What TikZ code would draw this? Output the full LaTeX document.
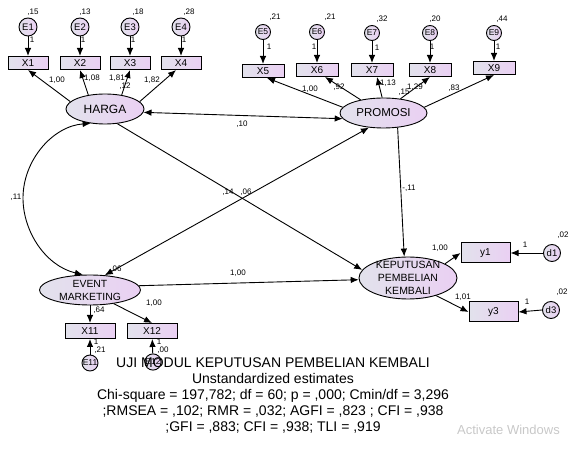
\documentclass[tikz,border=0pt]{standalone}
\usepackage{fontspec}
\setmainfont{Liberation Sans}
\usetikzlibrary{shapes.geometric,arrows.meta}
\definecolor{gL}{RGB}{226,226,236}
\definecolor{gR}{RGB}{234,208,243}
\definecolor{wm}{RGB}{200,200,200}
\tikzset{
  grad/.style={left color=gL, right color=gR},
  lat/.style={ellipse, draw=black, line width=0.9pt, grad, inner sep=0pt},
  lattext/.style={align=center, inner sep=0pt},
  obs/.style={rectangle, draw=black, line width=1pt, grad, inner sep=0pt, font=\fontsize{10}{10}\selectfont},
  errc/.style={circle, draw=black, line width=0.9pt, grad, inner sep=0pt, font=\fontsize{9.5}{9.5}\selectfont},
  lb/.style={font=\fontsize{8}{8}\selectfont, inner sep=0pt},
  arr/.style={-{Latex[length=8pt,width=6.5pt]}, line width=0.9pt},
  darr/.style={{Latex[length=8pt,width=6.5pt]}-{Latex[length=8pt,width=6.5pt]}, line width=0.9pt},
  ttl/.style={font=\fontsize{14}{16}\selectfont, inner sep=0pt, anchor=base},
}
\begin{document}
\begin{tikzpicture}[x=1pt,y=-1pt]
\path[use as bounding box] (0,0) rectangle (574,449);

% ---- HARGA group
\node[lat, minimum width=78pt, minimum height=30pt, label={[lattext,font=\fontsize{12}{12}\selectfont]center:HARGA}] (H) at (105,109) {};
\foreach \i/\x in {1/28,2/80,3/130,4/181}{
  \node[obs, minimum width=40pt, minimum height=13pt] (X\i) at (\x,63) {X\i};
  \node[errc, minimum size=18pt] (E\i) at (\x,27) {E\i};
  \draw[arr] (E\i) -- (X\i);
}
\draw[arr] (H.168) -- (X1.south);
\draw[arr] (H.140) -- (X2.south);
\draw[arr] (H.40) -- (X3.south);
\draw[arr] (H.12) -- ([xshift=-5pt]X4.south);

% ---- PROMOSI group
\node[lat, minimum width=87pt, minimum height=30pt, label={[lattext,font=\fontsize{11.5}{12}\selectfont]center:PROMOSI}] (P) at (383.5,113) {};
\foreach \i/\x/\y/\ey in {5/263/71/32,6/317/70/32,7/372/70/33,8/430/70/33,9/494/68/33}{
  \node[obs, minimum width=42pt, minimum height=13pt] (X\i) at (\x,\y) {X\i};
  \node[errc, minimum size=15pt, font=\fontsize{8.5}{8.5}\selectfont] (E\i) at (\x,\ey) {E\i};
  \draw[arr] (E\i) -- (X\i);
}
\draw[arr] (P.172) -- ([xshift=4pt]X5.south);
\draw[arr] (P.150) -- ([xshift=8pt]X6.south);
\draw[arr] (P.95) -- ([xshift=5pt]X7.south);
\draw[arr] (P.40) -- (X8.south);
\draw[arr] (P.8) -- (X9.south);

% ---- EVENT MARKETING group
\node[lat, minimum width=101pt, minimum height=30pt, label={[lattext,font=\fontsize{10.4}{13}\selectfont]center:EVENT\\MARKETING}] (EV) at (90,290) {};
\node[obs, minimum width=50pt, minimum height=15pt] (X11) at (90,331) {X11};
\node[obs, minimum width=50pt, minimum height=15pt] (X12) at (152,331) {X12};
\node[errc, minimum size=16pt, font=\fontsize{8.5}{8.5}\selectfont] (E11) at (90,363) {E11};
\node[errc, minimum size=16pt, font=\fontsize{8.5}{8.5}\selectfont] (E12) at (153,362) {E12};
\draw[arr] (EV) -- (X11);
\draw[arr] (EV.-30) -- (X12.north);
\draw[arr] (E11) -- (X11);
\draw[arr] (E12) -- (X12);

% ---- KEPUTUSAN group
\node[lat, minimum width=98pt, minimum height=42pt, label={[lattext,font=\fontsize{10.5}{13.3}\selectfont]center:KEPUTUSAN\\PEMBELIAN\\KEMBALI}] (K) at (408,278) {};
\node[obs, minimum width=49pt, minimum height=20pt] (y1) at (485.5,253) {y1};
\node[obs, minimum width=49pt, minimum height=20pt] (y3) at (493.5,312) {y3};
\node[errc, minimum size=17pt] (d1) at (552,253) {d1};
\node[errc, minimum size=17pt] (d3) at (551,310) {d3};
\draw[arr] (K.21) -- (y1.west);
\draw[arr] (K.-32) -- (y3.west);
\draw[arr] (d1) -- (y1);
\draw[arr] (d3.west) -- (y3.east);

% ---- structural paths
\draw[darr] (H.355) -- (P.188);
\draw[arr] (H.-50) -- (K.170);
\draw[darr] (P.225) -- (EV.45);
\draw[arr] (P.-46) -- (K.100);
\draw[arr] (EV.5) -- (K.182);
\draw[darr] (H.225) .. controls (53,126) and (23,160) .. (23,198) .. controls (23,232) and (46,266) .. (EV.115);

% ---- labels
\node[lb] (l1) at (33,12) {,15};
\node[lb] (l2) at (85,12) {,13};
\node[lb] (l3) at (138,12) {,18};
\node[lb] (l4) at (189,12) {,28};
\node[lb] (m1) at (32,40) {1};
\node[lb] (m2) at (83,40) {1};
\node[lb] (m3) at (133,40) {1};
\node[lb] (m4) at (184,40) {1};
\node[lb] (m5) at (57,80) {1,00};
\node[lb] (m6) at (92,78) {1,08};
\node[lb] (m7) at (117,78) {1,81};
\node[lb] (m8) at (125,86) {,12};
\node[lb] (m9) at (152,80) {1,82};
\node[lb] (l5) at (275,17) {,21};
\node[lb] (l6) at (330,17) {,21};
\node[lb] (l7) at (382,19) {,32};
\node[lb] (l8) at (435,19) {,20};
\node[lb] (l9) at (502,19) {,44};
\node[lb] (l10) at (269,47) {1};
\node[lb] (l11) at (314,47) {1};
\node[lb] (l12) at (377,48) {1};
\node[lb] (l13) at (432,47) {1};
\node[lb] (l14) at (498,47) {1};
\node[lb] (l15) at (310,89) {1,00};
\node[lb] (l16) at (339,87) {,92};
\node[lb] (l17) at (388,83) {1,13};
\node[lb] (l18) at (404,92) {,15};
\node[lb] (l19) at (415,87) {1,29};
\node[lb] (l20) at (454,88) {,83};
\node[lb] (l21) at (242,124) {,10};
\node[lb] (l22) at (16,197) {,11};
\node[lb] (l23) at (228,192) {,14};
\node[lb] (l24) at (246,192) {,06};
\node[lb] (l25) at (409,188) {-,11};
\node[lb] (l26) at (238,273) {1,00};
\node[lb] (l27) at (116,269) {,06};
\node[lb] (l28) at (99,310) {,64};
\node[lb] (l29) at (154,303) {1,00};
\node[lb] (l30) at (96,342) {1};
\node[lb] (l31) at (100,350) {,21};
\node[lb] (l32) at (159,342) {1};
\node[lb] (l33) at (163,350) {,00};
\node[lb] (l34) at (440,248) {1,00};
\node[lb] (l35) at (463,297) {1,01};
\node[lb] (l36) at (525,245) {1};
\node[lb] (l37) at (527,302) {1};
\node[lb] (l38) at (563,235) {,02};
\node[lb] (l39) at (562,292) {,02};

% ---- title block
\node[ttl] (t1) at (273,368) {UJI MODUL KEPUTUSAN PEMBELIAN KEMBALI};
\node[ttl] (t2) at (273,384) {Unstandardized estimates};
\node[ttl] (t3) at (273,400) {Chi-square = 197,782; df = 60; p = ,000; Cmin/df = 3,296};
\node[ttl] (t4) at (273,416) {;RMSEA = ,102; RMR = ,032; AGFI = ,823 ; CFI = ,938};
\node[ttl] (t5) at (273,432) {;GFI = ,883; CFI = ,938; TLI = ,919};
\node[font=\fontsize{13}{13}\selectfont, text=wm, inner sep=0pt, anchor=base west] (wmk) at (457,435) {Activate Windows};
\end{tikzpicture}
\end{document}
